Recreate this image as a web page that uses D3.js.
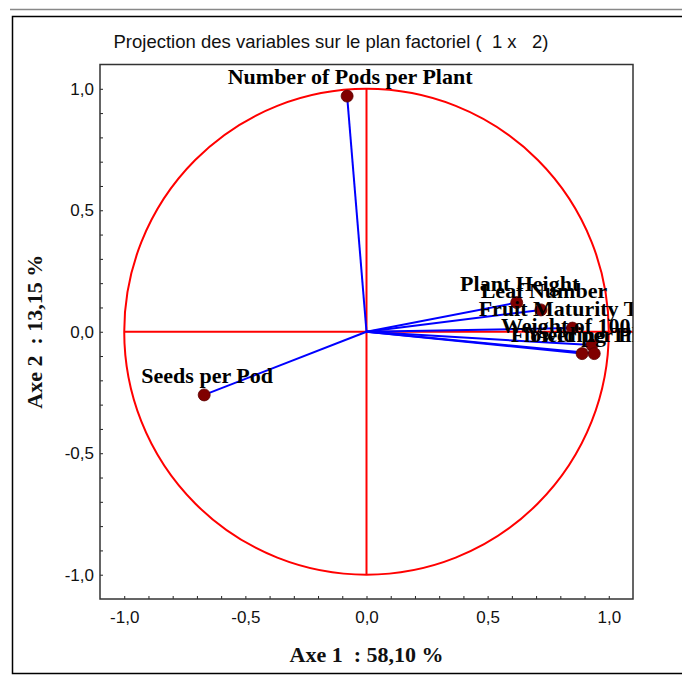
<!DOCTYPE html>
<html>
<head>
<meta charset="utf-8">
<script src="https://cdn.jsdelivr.net/npm/d3@7"></script>
<style>
  body { margin: 0; background: #fff; }
  svg { display: block; }
  text { white-space: pre; }
</style>
</head>
<body>
<svg width="682" height="675"></svg>
<script>
// variable names and their coordinates on factors 1 and 2
var variables = ["Number of Pods per Plant", "Seeds per Pod", "Plant Height", "Leaf Number",
                 "Fruit Maturity Time", "Weight of 100 Seeds", "Yield per Plant", "Flowering Time"];
var axis1 = [-0.08, -0.67, 0.62, 0.72, 0.85, 0.93, 0.94, 0.89];
var axis2 = [0.97, -0.26, 0.12, 0.09, 0.015, -0.055, -0.09, -0.09];
var labelTicks = [-1, -0.5, 0, 0.5, 1];
var chartTitle = "Projection des variables sur le plan factoriel (  1 x   2)";
var xTitle = "Axe 1  : 58,10 %";
var yTitle = "Axe 2  : 13,15 %";

var svg = d3.select("svg");
var margin = {left: 100, right: 633, top: 64.5, bottom: 599};

var x = d3.scaleLinear().domain([-1.1, 1.1]).range([margin.left, margin.right]);
var y = d3.scaleLinear().domain([-1.1, 1.1]).range([margin.bottom, margin.top]);

var locale = d3.formatLocale({decimal: ",", thousands: ".", grouping: [3], currency: ["", ""], minus: "-"});
var fmt = locale.format(".1f");
var minor = d3.range(-10, 11).map(function(i) { return i / 10; });

function tickLabel(d) {
  return labelTicks.some(function(t) { return Math.abs(t - d) < 1e-9; }) ? fmt(d) : "";
}

// window edge and outer frame
svg.append("line").attr("x1", 10).attr("x2", 682).attr("y1", 9.5).attr("y2", 9.5)
    .attr("stroke", "#888").attr("stroke-width", 1.5);
svg.append("rect").attr("x", 12.5).attr("y", 16.5).attr("width", 700).attr("height", 657)
    .attr("fill", "none").attr("stroke", "#000").attr("stroke-width", 1.5);

svg.append("text")
    .attr("x", 331).attr("y", 48)
    .attr("text-anchor", "middle")
    .style("font", "18.5px 'Liberation Sans', Arial, sans-serif")
    .attr("fill", "#111")
    .text(chartTitle);

// axes
var xAxis = d3.axisBottom(x).tickValues(minor).tickSizeInner(-3).tickSizeOuter(0)
    .tickPadding(12).tickFormat(tickLabel);
var yAxis = d3.axisLeft(y).tickValues(minor).tickSizeInner(-3).tickSizeOuter(0)
    .tickPadding(6).tickFormat(tickLabel);

var gx = svg.append("g").attr("transform", "translate(0," + margin.bottom + ")").call(xAxis);
var gy = svg.append("g").attr("transform", "translate(" + margin.left + ",0)").call(yAxis);
[gx, gy].forEach(function(g) {
  g.select(".domain").remove();
  g.selectAll(".tick line").attr("stroke", "#222");
  g.selectAll(".tick text")
      .style("font", "17px 'Liberation Sans', Arial, sans-serif")
      .attr("fill", "#111");
});

svg.append("defs").append("clipPath").attr("id", "plot-clip")
  .append("rect").attr("x", margin.left).attr("y", margin.top)
    .attr("width", margin.right - margin.left).attr("height", margin.bottom - margin.top);

var plot = svg.append("g").attr("clip-path", "url(#plot-clip)");

// unit circle and axes through origin
plot.append("ellipse")
    .attr("cx", x(0)).attr("cy", y(0))
    .attr("rx", x(1) - x(0)).attr("ry", y(0) - y(1))
    .attr("fill", "none").attr("stroke", "#ff0000").attr("stroke-width", 2);
plot.append("line")
    .attr("x1", x(-1)).attr("x2", x(1.1)).attr("y1", y(0)).attr("y2", y(0))
    .attr("stroke", "#ff0000").attr("stroke-width", 2);
plot.append("line")
    .attr("x1", x(0)).attr("x2", x(0)).attr("y1", y(1)).attr("y2", y(-1))
    .attr("stroke", "#ff0000").attr("stroke-width", 2);

var data = variables.map(function(name, i) {
  return {name: name, a1: axis1[i], a2: axis2[i]};
});

plot.selectAll(".vec").data(data).enter().append("line")
    .attr("class", "vec")
    .attr("x1", x(0)).attr("y1", y(0))
    .attr("x2", function(d) { return x(d.a1); })
    .attr("y2", function(d) { return y(d.a2); })
    .attr("stroke", "#0000ff").attr("stroke-width", 2);

plot.selectAll(".pt").data(data).enter().append("circle")
    .attr("class", "pt")
    .attr("cx", function(d) { return x(d.a1); })
    .attr("cy", function(d) { return y(d.a2); })
    .attr("r", 6)
    .attr("fill", "#800000")
    .attr("stroke", "#5a0000").attr("stroke-width", 0.8);

plot.selectAll(".lbl").data(data).enter().append("text")
    .attr("class", "lbl")
    .attr("x", function(d) { return x(d.a1) + 3; })
    .attr("y", function(d) { return y(d.a2) - 12; })
    .attr("text-anchor", "middle")
    .style("font", "bold 22px 'Liberation Serif', 'Times New Roman', serif")
    .attr("fill", "#000")
    .text(function(d) { return d.name; });

// plot border
svg.append("rect")
    .attr("x", margin.left).attr("y", margin.top)
    .attr("width", margin.right - margin.left).attr("height", margin.bottom - margin.top)
    .attr("fill", "none").attr("stroke", "#333").attr("stroke-width", 1.5);

svg.append("text")
    .attr("x", x(0)).attr("y", 662)
    .attr("text-anchor", "middle")
    .style("font", "bold 22px 'Liberation Serif', 'Times New Roman', serif")
    .attr("fill", "#111")
    .text(xTitle);

svg.append("text")
    .attr("transform", "translate(42," + y(0) + ") rotate(-90)")
    .attr("text-anchor", "middle")
    .style("font", "bold 22px 'Liberation Serif', 'Times New Roman', serif")
    .attr("fill", "#111")
    .text(yTitle);
</script>
</body>
</html>
